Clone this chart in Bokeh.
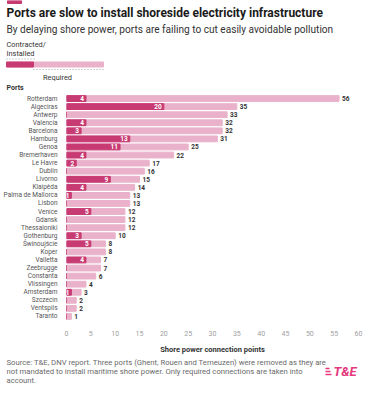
from bokeh.plotting import figure
from bokeh.layouts import column
from bokeh.models import ColumnDataSource, FactorRange, Range1d, FixedTicker
from bokeh.embed import file_html
from bokeh.resources import INLINE
from bokeh.core.properties import value

ports = ["Rotterdam", "Algeciras", "Antwerp", "Valencia", "Barcelona", "Hamburg",
         "Genoa", "Bremerhaven", "Le Havre", "Dublin", "Livorno", "Klaipėda",
         "Palma de Mallorca", "Lisbon", "Venice", "Gdansk", "Thessaloniki",
         "Gothenburg", "Świnoujście", "Koper", "Valletta", "Zeebrugge",
         "Constanta", "Vlissingen", "Amsterdam", "Szczecin", "Ventspils", "Taranto"]
required = [56, 35, 33, 32, 32, 31, 25, 22, 17, 16, 15, 14, 13, 13, 12, 12, 12,
            10, 8, 8, 7, 7, 6, 4, 3, 2, 2, 1]
installed = [4, 20, 0, 4, 3, 13, 11, 4, 2, 0, 9, 4, 1, 0, 5, 0, 0,
             3, 5, 0, 4, 0, 0, 0, 1, 0, 0, 0]
x_ticks = [0, 5, 10, 15, 20, 25, 30, 35, 40, 45, 50, 55, 60]

title = "Ports are slow to install shoreside electricity infrastructure"
subtitle = "By delaying shore power, ports are failing to cut easily avoidable pollution"
source_lines = [
    "Source: T&E, DNV report. Three ports (Ghent, Rouen and Terneuzen) were removed as they are",
    "not mandated to install maritime shore power. Only required connections are taken into",
    "account.",
]

DARK = "#C73A72"
LIGHT = "#E9B2CA"
LOGO = "#E5397C"
FONT = "Roboto"

W = 363
HEAD_H = 94
ML, MR, MB = 62, 5, 32
FRAME_H = 230
MAIN_H = FRAME_H + MB
FOOT_H = 384 - HEAD_H - MAIN_H
XMAX = 60.0


def blank(h):
    f = figure(width=W, height=h, output_backend="svg", toolbar_location=None,
               x_range=Range1d(0, W), y_range=Range1d(h, 0),
               x_axis_location=None, y_axis_location=None,
               min_border=0, min_border_left=0, min_border_right=0,
               min_border_top=0, min_border_bottom=0, frame_align=False)
    f.outline_line_color = None
    f.xgrid.grid_line_color = None
    f.ygrid.grid_line_color = None
    f.background_fill_color = "white"
    f.border_fill_color = "white"
    return f


def txt(f, x, y, s, size, color="#333333", style="normal", align="left"):
    f.text(x=[x], y=[y], text=[s], text_font=value(FONT), text_font_size=size,
           text_color=color, text_font_style=style, text_align=align,
           text_baseline="middle")


# ---------------- header ----------------
head = blank(HEAD_H)
head.quad(left=[7], right=[21], top=[0], bottom=[3], color=DARK)
txt(head, 6, 12, title, "12px", "#1a1a1a", "bold")
txt(head, 6, 29, subtitle, "10.1px", "#333333")
txt(head, 6, 44, "Contracted/", "7.4px")
txt(head, 6, 53, "Installed", "7.4px")
head.segment(x0=[6], y0=[58.5], x1=[35], y1=[58.5], line_color="#8a8a8a",
             line_width=0.8, line_dash="1 2")
head.quad(left=[6], right=[103], top=[61.5], bottom=[66.5], color=LIGHT)
head.quad(left=[6], right=[33], top=[61.5], bottom=[66.5], color=DARK)
head.segment(x0=[33], y0=[69], x1=[103], y1=[69], line_color="#8a8a8a",
             line_width=0.8, line_dash="1 2")
txt(head, 57, 76.5, "Required", "7.4px", align="center")
txt(head, 6, 87, "Ports", "7px", style="bold")

# ---------------- main chart ----------------
p = figure(width=W, height=MAIN_H, output_backend="svg", toolbar_location=None,
           y_range=FactorRange(factors=ports[::-1], range_padding=0),
           x_range=Range1d(0, XMAX),
           min_border_left=ML, min_border_right=MR,
           min_border_top=0, min_border_bottom=MB, frame_align=False)
p.outline_line_color = None
p.background_fill_color = "white"
p.border_fill_color = "white"
p.xgrid.grid_line_color = None
p.ygrid.grid_line_color = None

src = ColumnDataSource(dict(port=ports, req=required, inst=installed,
                            req_lbl=[str(v) for v in required]))
p.hbar(y="port", right="req", left=0, height=0.72, color=LIGHT, source=src)
p.hbar(y="port", right="inst", left=0, height=0.72, color=DARK, source=src)

p.text(x="req", y="port", text="req_lbl", source=src, x_offset=3,
       text_align="left", text_baseline="middle", text_font=value(FONT),
       text_font_size="6.5px", text_font_style="bold", text_color="#333333")

ins_ports = [pt for pt, v in zip(ports, installed) if v > 0]
ins_vals = [v for v in installed if v > 0]
src2 = ColumnDataSource(dict(port=ins_ports, inst=ins_vals,
                             lbl=[str(v) for v in ins_vals]))
p.text(x="inst", y="port", text="lbl", source=src2, x_offset=-2,
       text_align="right", text_baseline="middle", text_font=value(FONT),
       text_font_size="6.5px", text_font_style="bold", text_color="white")

xa = p.xaxis[0]
xa.ticker = FixedTicker(ticks=x_ticks)
xa.axis_line_color = None
xa.major_tick_line_color = None
xa.minor_tick_line_color = None
xa.major_label_standoff = 4
xa.major_label_text_font = FONT
xa.major_label_text_font_size = "7px"
xa.major_label_text_color = "#a0a0a0"
xa.axis_label = "Shore power connection points"
xa.axis_label_text_font = FONT
xa.axis_label_text_font_size = "7.5px"
xa.axis_label_text_font_style = "bold"
xa.axis_label_text_color = "#333333"
xa.axis_label_standoff = 6

ya = p.yaxis[0]
ya.axis_line_color = None
ya.major_tick_line_color = None
ya.minor_tick_line_color = None
ya.major_label_standoff = 3
ya.major_label_text_font = FONT
ya.major_label_text_font_size = "6.5px"
ya.major_label_text_color = "#555555"

# ---------------- footer ----------------
foot = blank(FOOT_H)
for i, line in enumerate(source_lines):
    txt(foot, 6, 6 + 9 * i, line, "7.7px", "#6a6a6a")
foot.segment(x0=[325, 325, 325], y0=[12, 15, 18], x1=[329, 330, 331],
             y1=[12, 15, 18], line_color=LOGO, line_width=1.4)
txt(foot, 333, 15, "T&E", "13px", LOGO, "bold italic")

layout = column(head, p, foot, spacing=0)
open("out.html", "w").write(file_html(layout, INLINE))
